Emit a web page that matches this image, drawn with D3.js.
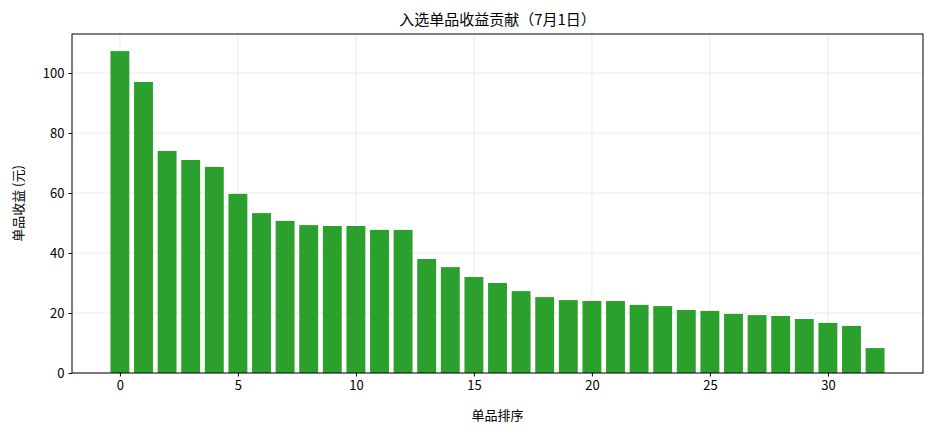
<!DOCTYPE html>
<html><head><meta charset="utf-8">
<script src="https://cdn.jsdelivr.net/npm/d3@7"></script>
<style>body{margin:0;background:#fff}text{font-family:"Noto Sans CJK SC","DejaVu Sans",sans-serif}</style>
</head><body><svg id="c" width="935" height="435"></svg>
<script>
const title = "入选单品收益贡献（7月1日）";
const xLabel = "单品排序";
const yLabel = "单品收益 (元)";
const ranks = d3.range(33);
const values = [107.3,97,74,71,68.7,59.7,53.3,50.7,49.3,49,49,47.7,47.7,38,35.3,32,30,27.3,25.3,24.3,24,24,22.7,22.3,21,20.7,19.7,19.3,19,18,16.7,15.7,8.3];
const xTicks = [0,5,10,15,20,25,30];
const yTicks = [0,20,40,60,80,100];

const L=72,R=923,T=34,B=373;
const svg=d3.select("#c");
const x=d3.scaleLinear().domain([-2.03,34.03]).range([L,R]);
const y=d3.scaleLinear().domain([0,113]).range([B,T]);
const g=svg.append("g");
g.selectAll(".gx").data(xTicks).join("line").attr("x1",d=>x(d)).attr("x2",d=>x(d)).attr("y1",T).attr("y2",B).attr("stroke","#e6e6e6").attr("stroke-width",0.8);
g.selectAll(".gy").data(yTicks).join("line").attr("y1",d=>y(d)).attr("y2",d=>y(d)).attr("x1",L).attr("x2",R).attr("stroke","#e6e6e6").attr("stroke-width",0.8);
svg.selectAll(".bar").data(ranks).join("rect")
 .attr("x",i=>x(i-0.4)).attr("width",x(0.8)-x(0)).attr("y",i=>y(values[i])).attr("height",i=>B-y(values[i]))
 .attr("fill","#2ca02c");
svg.append("g").attr("transform",`translate(0,${B})`).call(d3.axisBottom(x).tickValues(xTicks).tickSize(3.5).tickPadding(4)).call(a=>a.select(".domain").remove()).selectAll("text").attr("font-size",13).attr("fill","#000");
svg.append("g").attr("transform",`translate(${L},0)`).call(d3.axisLeft(y).tickValues(yTicks).tickSize(3.5).tickPadding(4)).call(a=>a.select(".domain").remove()).selectAll("text").attr("font-size",13).attr("fill","#000");
svg.append("rect").attr("x",L).attr("y",T).attr("width",R-L).attr("height",B-T).attr("fill","none").attr("stroke","#000").attr("stroke-width",1);
svg.append("text").attr("x",(L+R)/2).attr("y",25).attr("text-anchor","middle").attr("font-size",15).text(title);
svg.append("text").attr("x",(L+R)/2).attr("y",420).attr("text-anchor","middle").attr("font-size",13).text(xLabel);
svg.append("text").attr("transform",`translate(23,${(T+B)/2}) rotate(-90)`).attr("text-anchor","middle").attr("font-size",13).text(yLabel);
</script></body></html>
